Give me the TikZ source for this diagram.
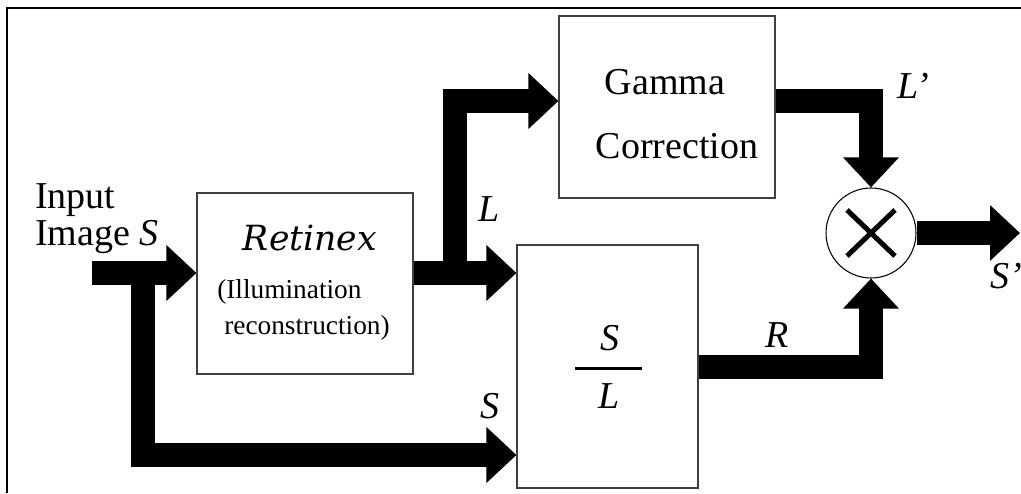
\documentclass[tikz,border=0pt]{standalone}
\usepackage{fontspec}
\setmainfont{Liberation Serif}
\newfontfamily\retfont{DejaVu Serif}
\usepackage{tikz}
\usetikzlibrary{arrows.meta,shapes,positioning,calc}
\tikzset{blk/.style={rectangle,draw=black!75,line width=0.8pt,inner sep=0pt}}
\tikzset{fat/.style={line width=18pt,line join=miter,-{Triangle[length=22.5pt,width=40.5pt]}}}
\tikzset{txt/.style={inner sep=0pt,anchor=base west,font=\fontsize{28.5}{30}\selectfont}}
\tikzset{sml/.style={inner sep=0pt,anchor=base west,font=\fontsize{20.5}{22}\selectfont}}

\begin{document}
\begin{tikzpicture}[x=0.75pt,y=-0.75pt]
    \useasboundingbox (0,0) rectangle (1021,493);
    \draw[line width=1.9pt] (7,493) -- (7,8) -- (1021,8);

    \node[blk,minimum width=162pt,minimum height=135.75pt] (ret)at (305,283.5) {};
    \node[blk,minimum width=162pt,minimum height=136.5pt] (gam)at (667,107) {};
    \node[blk,minimum width=135.75pt,minimum height=182.25pt] (sl)at (607.5,366.5) {};
    \node[circle,draw,line width=0.8pt,minimum size=67.5pt,inner sep=0pt] (mul)at (871,233) {};
    \draw[line width=3.75pt] ($(mul)+(-24,-23)$) -- ($(mul)+(24,23)$);
    \draw[line width=3.75pt] ($(mul)+(-24,23)$) -- ($(mul)+(24,-23)$);

    \node[txt] (inp)at (35,208) {Input};
    \node[txt] (img)at (35,245) {Image \textit{S}};
    \node[inner sep=0pt,anchor=base,font=\retfont\itshape\fontsize{26}{28}\selectfont] (rettxt)at (310,250) {Retinex};
    \node[sml] (ill)at (217,298) {(Illumination};
    \node[sml] (rec)at (224,334) {reconstruction)};
    \node[txt,anchor=base] (gtxt)at (665,94) {Gamma};
    \node[txt,anchor=base] (ctxt)at (677,158) {Correction};
    \node[txt,anchor=base] (num)at (610,350) {\textit{S}};
    \node[txt,anchor=base] (den)at (609,408) {\textit{L}};
    \draw[line width=2.25pt] (575,368) -- (642,368);

    \node[txt] (lL)at (478,221) {\textit{L}};
    \node[txt] (lS)at (480,418) {\textit{S}};
    \node[txt] (lR)at (765,347) {\textit{R}};
    \node[txt] (lLp)at (897,98) {\textit{L'}};
    \node[txt] (lSp)at (990,288) {\textit{S'}};

    \coordinate (in) at (92,273);
    \coordinate (jS) at (143,273);
    \coordinate (bS) at (143,455);
    \coordinate (jL) at (455,273);
    \coordinate (jG) at (455,101);
    \coordinate (out) at (1020,233);

    \draw [fat] (in) -- (in -| ret.west);
    \draw [fat] (in -| ret.east) -- (in -| sl.west);
    \draw [fat] (jL) -- (jG) -- (jG -| gam.west);
    \draw [fat] (jG -| gam.east) -| (mul.north);
    \draw [fat] (sl.east) -| (mul.south);
    \draw [fat] (mul.east) -- (out);
    \draw [fat] (jS) -- (bS) -- (bS -| sl.west);
\end{tikzpicture}
\end{document}
